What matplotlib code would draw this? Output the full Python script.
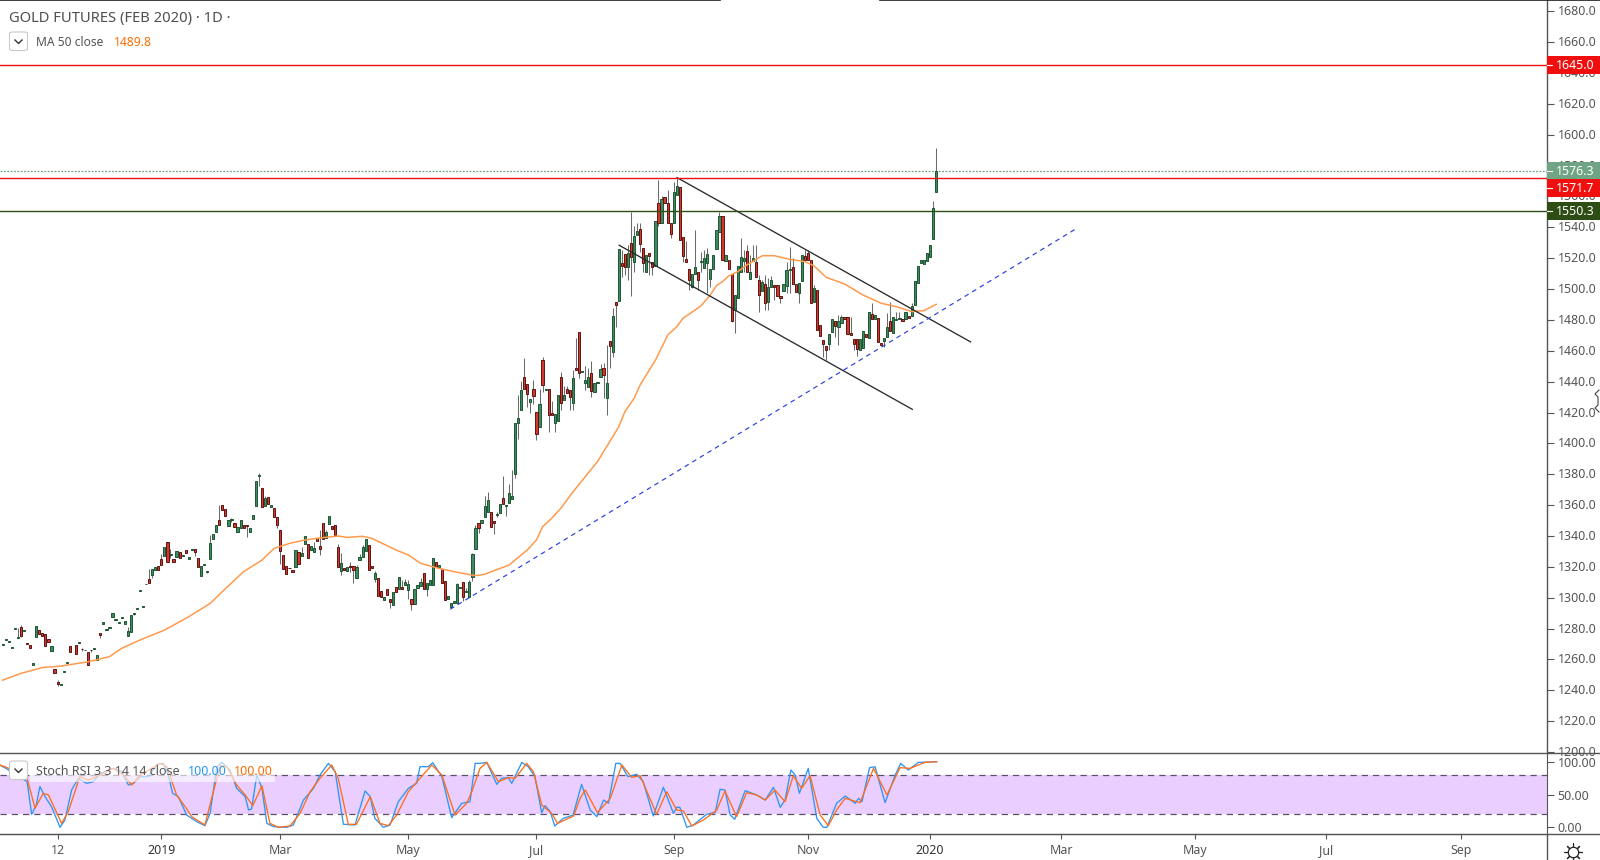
import numpy as np
import matplotlib
matplotlib.use("Agg")
import matplotlib.pyplot as plt
from matplotlib.patches import Rectangle, FancyBboxPatch
from matplotlib.lines import Line2D
from matplotlib.transforms import ScaledTranslation

plt.rcParams['font.family'] = ['Noto Sans', 'DejaVu Sans']

nan = float('nan')

# daily candles (bar 0 = left edge)
opens = [1269.6,1272.8,1271.5,1267.6,1279.9,1274.1,1280.8,1278.6,1270.6,1269.3,
1256.6,1274.7,1278.8,1277.3,1276.2,1273.2,1265.6,1253.8,1245.6,1243.4,
1252.1,1257.9,1268.5,nan,1269.1,1270.8,1266.9,1265.9,1264.6,1266.3,
1267.0,1259.8,1276.9,1283.1,1279.3,1280.6,1287.5,1285.8,1283.8,1287.0,
1283.1,1275.4,1277.9,1289.6,1292.9,1304.5,1294.2,1308.6,1312.1,1314.7,
1317.9,1320.7,1324.9,1327.2,1335.9,1327.7,1324.9,1326.1,1329.4,1327.2,
1330.7,1325.3,1331.1,1331.3,1325.5,1314.3,1321.4,1316.9,1324.9,1337.8,
1342.3,1350.1,1360.3,1357.7,1346.2,1350.6,1348.6,1342.3,1344.9,1346.9,
1347.1,1342.8,1350.8,1359.2,1378.9,1370.9,1359.4,1365.5,1359.0,1357.9,
1352.1,1343.6,1327.4,1320.3,1319.4,1317.9,1319.7,1329.4,1327.2,1335.0,
1334.6,1331.1,1329.4,1338.5,1333.5,1348.2,1338.9,1347.5,1346.5,1346.9,
1332.6,1317.5,1319.0,1317.5,1320.3,1320.3,1312.5,1324.6,1326.1,1330.0,
1334.4,1320.3,1312.3,1312.5,1304.1,1298.5,1305.4,1298.9,1295.0,1306.7,
1305.4,1306.7,1308.2,1305.0,1298.9,1296.1,1306.5,1307.6,1315.8,1305.4,
1308.4,1308.0,1322.9,1319.9,1318.4,1310.6,1299.1,1293.9,1296.5,1296.8,
1306.3,1309.9,1303.9,1300.6,1313.7,1331.4,1348.2,1348.2,1352.1,1355.3,
1355.3,1349.7,1353.6,1355.1,1364.4,1359.5,1361.2,1364.2,1380.0,1413.0,
1421.4,1442.8,1438.7,1427.1,1435.0,1420.1,1410.4,1453.8,1434.8,1435.0,
1419.5,1413.0,1414.3,1442.8,1427.9,1435.0,1434.4,1426.0,1448.7,1472.0,
1446.3,1438.9,1436.3,1445.4,1433.1,1439.2,1443.3,1448.7,1429.2,1466.2,
1459.0,1491.4,1492.1,1516.7,1522.5,1514.5,1529.6,1517.8,1535.3,1538.7,
1526.4,1511.3,1523.2,1517.3,1515.0,1555.6,1542.6,1559.4,1555.6,1543.0,
1542.6,1561.2,1565.9,1533.5,1519.3,1512.8,1501.1,1510.0,1510.8,1517.8,
1513.4,1516.7,1506.7,1512.8,1526.2,1536.8,1547.1,1518.0,1518.6,1509.6,
1486.4,1494.0,1511.3,1518.2,1524.5,1506.3,1518.0,1517.3,1505.7,1499.0,
1503.1,1491.4,1501.1,1502.4,1502.4,1495.3,1498.5,1501.8,1512.6,1514.1,
1503.1,1497.2,1505.0,1521.6,1523.2,1518.6,1491.4,1499.2,1476.5,1466.8,
1462.9,1464.2,1472.0,1479.1,1475.2,1477.8,1481.7,1481.7,1471.3,1467.4,
1467.4,1460.7,1461.6,1470.7,1468.1,1483.6,1480.4,1481.0,1464.8,1466.6,
1468.7,1479.1,1471.3,1480.2,1480.8,1480.4,1480.4,1482.8,1482.3,1489.9,
1504.2,1516.7,1516.0,1518.0,1521.0,1532.2,1562.7]

closes = [1270.0,1273.2,1271.9,1268.0,1280.3,1274.5,1275.4,1279.0,1270.2,1267.6,
1257.6,1281.6,1276.2,1275.4,1268.9,1271.5,1268.5,1251.4,1244.0,1243.8,
1252.5,1258.3,1265.0,nan,1263.7,1271.2,1266.5,1266.3,1256.6,1265.9,
1267.4,1262.6,1275.8,1284.2,1279.7,1281.0,1289.8,1286.2,1284.2,1287.4,
1284.9,1278.2,1288.5,1290.0,1293.3,1304.9,1294.6,1309.0,1309.5,1318.4,
1319.9,1318.1,1321.4,1332.6,1323.3,1328.1,1323.3,1330.0,1325.5,1327.6,
1329.2,1326.4,1331.5,1329.8,1320.1,1320.3,1321.8,1317.3,1335.2,1341.0,
1346.9,1346.9,1356.6,1353.2,1350.6,1351.0,1346.0,1346.0,1350.1,1345.4,
1346.7,1344.9,1353.4,1375.8,1379.3,1358.5,1364.4,1360.5,1360.1,1352.1,
1346.9,1330.0,1318.4,1315.1,1319.0,1316.9,1330.7,1321.6,1329.0,1339.8,
1325.5,1333.5,1332.0,1337.0,1331.8,1337.8,1342.3,1352.7,1344.7,1340.4,
1319.7,1322.3,1317.9,1319.7,1319.9,1318.2,1319.7,1326.4,1332.6,1337.8,
1317.7,1319.4,1315.8,1301.3,1300.7,1300.4,1301.7,1297.4,1303.7,1303.7,
1313.2,1305.4,1309.9,1308.8,1296.1,1305.4,1308.2,1309.9,1305.6,1309.3,
1311.4,1325.5,1319.6,1321.2,1309.3,1298.5,1301.1,1296.8,1297.6,1308.8,
1306.7,1300.2,1304.3,1309.9,1328.3,1345.0,1345.4,1350.2,1359.2,1363.1,
1346.1,1348.6,1354.0,1360.5,1360.7,1359.9,1367.7,1365.9,1413.0,1416.3,
1434.4,1435.0,1431.8,1428.8,1430.5,1405.9,1425.3,1438.1,1435.2,1418.2,
1418.2,1418.8,1431.2,1426.0,1431.2,1432.5,1429.9,1442.2,1447.4,1445.4,
1446.7,1440.9,1442.8,1433.8,1438.9,1439.6,1448.0,1444.1,1438.9,1463.3,
1482.4,1489.9,1525.8,1515.2,1514.5,1523.2,1520.6,1534.2,1537.4,1529.4,
1517.1,1521.9,1521.6,1514.5,1543.9,1543.0,1558.2,1555.6,1543.0,1535.7,
1562.7,1566.6,1531.6,1521.4,1517.3,1505.7,1509.6,1514.1,1505.9,1518.2,
1520.1,1522.5,1512.8,1521.9,1538.1,1547.1,1518.6,1521.9,1513.2,1479.5,
1495.9,1514.7,1520.6,1519.9,1511.3,1510.8,1519.9,1507.6,1495.9,1504.4,
1490.8,1501.1,1505.7,1501.1,1495.3,1494.4,1503.1,1512.1,1513.0,1503.1,
1497.9,1503.7,1521.9,1518.8,1518.8,1490.8,1500.5,1473.3,1469.8,1464.2,
1460.7,1470.7,1480.4,1475.9,1479.1,1481.7,1480.8,1470.7,1470.5,1464.2,
1461.0,1467.4,1472.6,1469.2,1484.9,1480.4,1483.0,1465.5,1464.0,1468.1,
1475.2,1472.6,1481.7,1480.6,1481.2,1479.1,1484.9,1481.0,1488.8,1505.0,
1514.7,1518.6,1518.6,1523.2,1528.3,1552.3,1576.3]

highs = [1270.0,1273.2,1271.9,1268.0,1280.3,1280.1,1282.3,1279.0,1270.6,1269.3,
1257.6,1281.6,1278.8,1277.3,1276.2,1273.2,1268.5,1253.8,1246.6,1243.8,
1252.5,1258.3,1268.5,nan,1269.1,1271.2,1267.5,1266.3,1264.6,1266.3,
1267.4,1262.6,1276.9,1284.2,1279.7,1281.0,1289.8,1286.2,1284.2,1287.4,
1284.9,1280.8,1288.5,1290.0,1293.3,1304.9,1294.6,1309.0,1318.6,1318.4,
1319.9,1320.7,1328.3,1332.6,1335.9,1331.8,1324.9,1330.0,1329.4,1327.6,
1330.7,1326.4,1331.5,1331.3,1325.5,1320.3,1321.8,1317.3,1340.6,1341.0,
1346.9,1360.1,1360.3,1357.7,1350.6,1351.4,1348.6,1346.0,1350.1,1346.9,
1347.1,1344.9,1353.4,1375.8,1380.6,1370.9,1366.1,1365.5,1360.1,1357.9,
1352.1,1343.6,1327.4,1320.3,1319.4,1317.9,1330.7,1329.4,1333.1,1339.8,
1334.6,1333.5,1335.9,1338.5,1343.9,1348.2,1343.9,1352.7,1346.5,1346.9,
1334.8,1328.7,1319.0,1319.7,1323.3,1320.3,1321.2,1328.5,1334.1,1337.8,
1334.4,1320.3,1317.5,1312.5,1304.1,1300.4,1305.4,1298.9,1303.7,1306.7,
1313.2,1311.4,1312.1,1311.4,1298.9,1305.4,1308.2,1313.0,1315.8,1309.3,
1311.4,1325.5,1322.9,1321.2,1318.4,1310.6,1301.1,1296.8,1297.6,1309.7,
1306.7,1309.9,1306.0,1311.4,1328.8,1347.1,1348.2,1350.2,1365.9,1368.3,
1355.3,1349.7,1355.5,1360.5,1378.9,1359.9,1373.7,1382.8,1413.0,1431.4,
1440.5,1455.4,1438.7,1428.8,1441.1,1420.1,1435.0,1456.2,1435.2,1435.0,
1427.7,1418.8,1431.2,1446.3,1437.4,1437.2,1434.4,1447.6,1468.1,1472.0,
1446.7,1450.2,1449.0,1453.4,1438.9,1439.6,1451.3,1451.9,1463.8,1466.2,
1487.5,1491.4,1525.8,1525.0,1522.5,1528.6,1550.2,1540.9,1543.0,1543.0,
1526.4,1521.9,1523.2,1517.3,1543.9,1570.7,1560.0,1559.4,1564.0,1543.0,
1569.6,1571.8,1565.9,1533.5,1531.0,1512.8,1509.6,1538.3,1510.8,1524.2,
1525.4,1526.4,1512.8,1521.9,1538.1,1550.2,1547.1,1521.9,1518.6,1509.6,
1495.9,1514.7,1532.9,1525.4,1528.6,1522.0,1528.6,1528.6,1509.1,1506.0,
1509.1,1507.0,1508.5,1502.4,1502.4,1495.3,1503.1,1517.8,1527.5,1519.9,
1503.1,1503.7,1521.9,1525.0,1525.3,1518.6,1502.6,1499.2,1476.5,1466.8,
1462.9,1470.7,1480.4,1479.1,1483.2,1483.2,1481.7,1481.7,1482.0,1467.4,
1467.4,1467.4,1472.6,1470.7,1484.9,1490.8,1483.0,1481.0,1464.8,1468.1,
1484.3,1491.8,1481.7,1485.4,1485.4,1480.4,1484.9,1482.8,1490.8,1505.0,
1514.7,1518.6,1518.6,1523.2,1528.3,1557.0,1591.2]

lows = [1269.6,1272.8,1271.5,1267.6,1279.9,1274.1,1274.3,1278.6,1270.2,1267.6,
1256.6,1274.7,1276.2,1275.4,1268.9,1271.5,1265.6,1251.4,1243.0,1243.4,
1252.1,1257.9,1265.0,nan,1263.7,1270.8,1265.5,1265.9,1256.6,1265.0,
1267.0,1259.8,1274.1,1283.1,1279.3,1280.6,1287.5,1285.8,1283.8,1287.0,
1283.1,1275.4,1277.9,1288.8,1292.9,1304.5,1294.2,1308.6,1309.5,1312.5,
1317.9,1318.1,1321.4,1327.2,1323.3,1325.5,1323.3,1326.1,1325.5,1327.2,
1329.2,1325.3,1331.1,1327.0,1320.1,1314.3,1321.4,1316.2,1324.9,1337.8,
1342.3,1346.9,1356.6,1353.2,1346.2,1349.3,1346.0,1342.3,1344.9,1345.4,
1339.3,1342.8,1350.8,1359.2,1372.4,1358.5,1359.4,1360.5,1359.0,1352.1,
1345.4,1322.0,1318.4,1315.1,1319.0,1316.9,1319.7,1321.6,1327.2,1335.0,
1325.5,1331.1,1329.4,1337.0,1327.7,1337.8,1338.9,1347.5,1344.7,1340.4,
1319.7,1314.7,1317.9,1317.5,1316.9,1309.7,1312.5,1324.6,1326.1,1330.0,
1317.7,1319.4,1310.4,1301.3,1300.7,1298.5,1301.7,1293.5,1295.0,1303.7,
1305.4,1305.4,1308.2,1298.9,1292.0,1296.1,1306.5,1307.6,1305.6,1301.0,
1308.4,1308.0,1319.6,1319.9,1309.3,1298.5,1299.1,1293.9,1296.5,1296.8,
1306.3,1298.0,1303.9,1300.6,1311.0,1331.4,1342.2,1348.2,1352.1,1355.3,
1346.1,1341.1,1352.5,1355.1,1360.7,1353.2,1361.2,1364.2,1377.8,1402.9,
1421.4,1435.0,1423.8,1419.5,1425.3,1402.2,1410.4,1433.1,1434.8,1407.6,
1418.2,1407.6,1414.3,1421.7,1427.9,1432.5,1421.7,1421.7,1447.4,1442.6,
1446.3,1434.6,1436.3,1430.3,1433.1,1439.2,1443.3,1429.6,1418.4,1449.1,
1456.2,1475.7,1492.1,1508.0,1509.0,1505.9,1495.7,1511.3,1535.3,1524.2,
1511.3,1511.3,1509.0,1509.1,1515.0,1540.9,1542.6,1555.6,1543.0,1532.9,
1542.6,1561.2,1531.6,1517.8,1517.3,1499.4,1500.5,1510.0,1499.4,1511.3,
1513.4,1497.2,1501.6,1512.8,1526.2,1536.8,1518.6,1518.0,1513.2,1478.9,
1471.8,1494.0,1511.3,1511.3,1511.3,1506.3,1518.0,1507.6,1484.9,1499.0,
1486.4,1486.4,1501.1,1492.9,1495.3,1490.7,1498.5,1497.2,1497.2,1503.1,
1497.9,1490.8,1505.0,1518.8,1518.8,1490.8,1491.4,1473.3,1469.8,1456.2,
1454.0,1460.5,1472.0,1469.2,1463.8,1477.8,1480.8,1470.7,1470.5,1460.5,
1456.6,1460.7,1461.6,1469.2,1468.1,1480.4,1480.4,1465.5,1464.0,1462.7,
1468.7,1472.6,1471.3,1480.2,1480.8,1479.1,1480.4,1481.0,1482.3,1489.9,
1504.2,1516.7,1516.0,1518.0,1521.0,1532.2,1562.7]

# MA 50, read at the bends of the line
ma_bar = [0,6,13,19,28,35,39,45,53,61,68,72,76,79,85,89,94,99,103,110,113,118,121,129,133,137,
          143,149,155,158,166,172,175,177,180,183,187,191,195,199,202,204,207,209,214,217,218,221,
          223,227,229,232,234,236,238,241,244,249,253,258,263,266,270,276,282,288,293,298,302,306]
ma_val = [1246.6,1251,1254.8,1255.7,1258.5,1261.8,1267.2,1272.6,1279,1287.7,1296.3,1303.9,1311.4,
          1316.9,1324.4,1332,1335.2,1337.4,1338.5,1340,1339.1,1339.8,1338.5,1330.9,1327.7,1322.3,
          1319,1316.5,1314.3,1315.2,1321.2,1331,1337.4,1346,1351.5,1358,1368.7,1378.5,1388.2,1401.1,
          1410.9,1420.6,1429.2,1437.9,1454,1465.9,1470.2,1475.6,1481,1486.4,1489.3,1496.2,1502.2,
          1504.8,1508.5,1511.3,1515.6,1521.6,1521.6,1519.3,1517.8,1515,1507.6,1503.3,1496.2,1490.8,
          1488.6,1485.4,1486,1490.1]

# stoch rsi
k_bar = [-1,1,8,9.5,11,12.2,13.9,16,18.8,20.4,22.6,24.8,27.5,29.7,32,36.3,39,41.2,42.9,45,47.8,50.5,52.7,54.3,
55.7,57.6,60.3,63.6,66.3,68,70.2,71.8,74.5,76.7,79.5,80.6,81.6,83.3,85,86.6,88.8,93.1,95.3,98.6,101.9,104,106.8,
109,111.7,115.5,118.8,120.5,122,124.8,127,129.7,133,135.7,136.8,139.5,141,144,147.2,150.5,153.2,154.9,156.5,158.7,
162,163.6,165.8,166.9,170.2,172.3,174.5,176.7,177.8,179.5,181,183.8,187,189.8,192.6,194.8,197,198.6,201,202.4,
205,207.9,210,213.3,216.6,219.9,221,222,224.3,226.4,230.8,233.6,235.2,236.8,238.5,240,243.4,247.2,250,252.7,254.9,
256.5,258.4,259.8,261.2,264.1,266.9,269,270.2,273.4,276.2,279.5,280.6,281.7,284.2,286,289.3,292.6,294.4,296.9,300.2,306.2]
k_val = [95,90,69.6,19.8,34,62,46.7,31.5,0,11,57,74.7,67,69.6,82.3,90,84.8,64.5,67,77.2,77.2,96,97.5,79.7,
51.8,46.7,18.8,8.6,2.5,21.3,92.4,99,87.4,59.4,46.7,26.4,27.9,79.7,59.4,6,1,0,3.5,41.6,59.4,79.7,97.5,
84.8,4.6,3.5,55.4,46.7,13.7,0,3.5,39,59.4,67,92.4,92.4,98.5,77.2,14.7,36.6,39,97.5,97.5,99,
65.5,74.7,75.7,67,99,92.4,77.2,22.3,33,23.9,2,13.7,18.8,65.5,26.4,16.2,41.6,36.6,97.5,97.5,
77.2,80.8,69.6,17.3,61,21.3,30.5,30.5,0,3.5,19.8,22.8,57.9,56.9,18.8,12.2,55.9,49.3,41.6,61,30.5,
41.6,87.4,79.7,51.8,89.9,13.7,0,0,36.6,47.7,36.6,44.2,39,90.9,92.4,37.6,79.7,97.5,87.4,99,100]
d_bar = [-1,1,8,10.6,13.3,15,19.3,21.5,25.3,28.1,32,36.3,39.6,42.3,45,48.9,51.6,53.8,57,59.8,62,66.3,68.5,71.3,
73.5,76.7,79.5,82,85,87.6,90.4,94.2,97.5,100.8,104,107.9,110,113.3,116,120.5,123.7,126.4,129.2,133,136.8,140.7,
144,148.3,152.1,153.8,156.5,158.7,162.5,165.8,168,171.8,174,176.7,180,181.9,187.2,189.3,191,195,199.2,203,206.2,
209,214.4,217.7,221,223.2,225.9,229.7,234.1,236.8,240.6,243.9,247.2,250,253.2,256.5,259.2,261.9,264.7,268,270.7,
273.4,276.2,281.1,285.5,289.9,294.2,297.5,302.4,306.2]
d_val = [95,92,74.7,29,51.8,49.3,6,24,77.2,72,79.7,90,79.7,64.5,79.7,89.9,97.5,92.4,49.3,31.5,16.2,3.5,44.2,94,
92.4,64.5,49.3,33,63.5,6,0,2,21.3,54.3,74.7,95,74.7,4.6,4.6,46.7,6,2.5,18.8,54.3,74.7,95,
79.7,18.8,36.6,54.3,89.9,99,69.6,75.7,74.7,97.5,84.8,34,21.3,6,17.3,44.2,57,22.3,44.2,95,76.2,
78.7,19.8,54.3,26.4,24.9,2,11,26.4,55.4,16.2,52.8,49.3,41.6,56.9,39,78.7,59.4,78.7,18.8,2.5,
26.4,44.2,37.6,89.9,49.3,90.9,89.9,99,100]

# drawn lines: (bar, price) of both ends
channel_top = ([221.1, 317.3], [1572.2, 1465.8])
channel_bottom = ([202.1, 298.2], [1528.4, 1422.1])
trend_line = ([146.7, 352.0], [1292.5, 1539.2])
level_red = [1645.0, 1571.7]
level_green = 1550.3
last_price = 1576.3

price_ticks = np.arange(1200, 1700, 20)
stoch_ticks = [0, 50, 100]
time_ticks = [18, 52, 91, 133, 175, 220, 264, 304, 347, 391, 434, 478]
time_labels = ['12', '2019', 'Mar', 'May', 'Jul', 'Sep', 'Nov', '2020', 'Mar', 'May', 'Jul', 'Sep']

W, H = 1600, 860
AXIS_X, SPLIT_Y, BOTTOM_Y = 1547, 753, 834
GREY = '#555555'
LINE = '#555555'


def fx(x):
    return x / W


def fy(y):
    return 1 - y / H


fig = plt.figure(figsize=(W / 100, H / 100), dpi=100, facecolor='white')
ax = fig.add_axes([0, fy(SPLIT_Y), AXIS_X / W, SPLIT_Y / H])
ax2 = fig.add_axes([0, fy(BOTTOM_Y), AXIS_X / W, (BOTTOM_Y - SPLIT_Y) / H])

# candles
o = np.array(opens)
c = np.array(closes)
hi = np.array(highs)
lo = np.array(lows)
bars = np.arange(len(o))
ok = ~np.isnan(o)
up = ok & (c >= o)
dn = ok & (c < o)

ax.vlines(bars[ok], lo[ok], hi[ok], color='#6b6b6b', lw=0.75, zorder=2)
ax.bar(bars[up], (c - o)[up], bottom=o[up], width=0.72, color='#3f8a63', edgecolor='#1e5631', lw=0.7, zorder=3)
ax.bar(bars[dn], (o - c)[dn], bottom=c[dn], width=0.72, color='#d3392b', edgecolor='#5c1512', lw=0.7, zorder=3)

ax.plot(ma_bar, ma_val, color='#ff9a4d', lw=1.1, zorder=4)
ax.plot(*channel_top, color='#2a2a2e', lw=0.95, zorder=5)
ax.plot(*channel_bottom, color='#2a2a2e', lw=0.95, zorder=5)
ax.plot(*trend_line, color='#2a3fe0', lw=0.85, ls=(0, (4, 3.5)), zorder=5)

ax.axhline(level_red[0], color='#f01010', lw=1.0, zorder=6)
ax.axhline(level_red[1], color='#f01010', lw=1.0, zorder=6)
ax.axhline(level_green, color='#2d4d14', lw=1.0, zorder=6)
ax.axhline(last_price, color='#6fa585', lw=0.9, ls=(0, (1.5, 1.2)), zorder=1)

xlim = (-0.885, 506.3)
ax.set_xlim(*xlim)
ax.set_ylim(1199.4, 1687.3)
ax.yaxis.tick_right()
ax.set_yticks(price_ticks)
ax.set_yticklabels(['%.1f' % t for t in price_ticks])
ax.tick_params(axis='y', length=5, width=0.8, color=LINE, labelcolor=GREY, labelsize=8.9, pad=2.5)
ax.set_xticks([])
for s in ['top', 'left', 'bottom']:
    ax.spines[s].set_visible(False)
ax.spines['right'].set_color(LINE)
ax.spines['right'].set_linewidth(1.0)

# stoch panel
ax2.axhspan(20, 80, color='#e9ceff', lw=0, zorder=1)
ax2.axhline(80, color='#5b5068', lw=0.9, ls=(0, (5, 4)), zorder=2)
ax2.axhline(20, color='#5b5068', lw=0.9, ls=(0, (5, 4)), zorder=2)
ax2.plot(k_bar, k_val, color='#2f96f3', lw=0.95, zorder=3)
ax2.plot(d_bar, d_val, color='#ff6d1a', lw=0.95, zorder=4)
ax2.set_xlim(*xlim)
ax2.set_ylim(-10.2, 113.3)
ax2.yaxis.tick_right()
ax2.set_yticks(stoch_ticks)
ax2.set_yticklabels(['%.2f' % t for t in stoch_ticks])
ax2.tick_params(axis='y', length=5, width=0.8, color=LINE, labelcolor=GREY, labelsize=8.9, pad=2.5)
ax2.set_xticks(time_ticks)
ax2.set_xticklabels(time_labels)
ax2.tick_params(axis='x', length=3.5, width=0.8, color=LINE, labelcolor=GREY, labelsize=8.9, pad=4)
for tick, lab in zip(ax2.get_xticklabels(), time_labels):
    if lab in ('2019', '2020'):
        tick.set_fontweight('bold')
        tick.set_color('#333333')
ax2.spines['left'].set_visible(False)
ax2.spines['top'].set_visible(False)
ax2.spines['bottom'].set_color(LINE)
ax2.spines['right'].set_color(LINE)

# price labels sit a pixel higher than matplotlib centres them
up_1px = ScaledTranslation(0, 1 / 100, fig.dpi_scale_trans)
for lab in ax.get_yticklabels():
    lab.set_transform(lab.get_transform() + up_1px)

# frame lines that run to the picture edge
frame = [([0, W], [SPLIT_Y, SPLIT_Y]), ([0, W], [BOTTOM_Y, BOTTOM_Y]), ([AXIS_X, AXIS_X], [BOTTOM_Y, H])]
for xs, ys in frame:
    fig.add_artist(Line2D([fx(v) for v in xs], [fy(v) for v in ys], color=LINE, lw=1.0, zorder=7))
for xs in ([0, 720], [880, W]):
    fig.add_artist(Line2D([fx(v) for v in xs], [fy(0.4), fy(0.4)], color='#1a1a1a', lw=1.2, zorder=7))


def py(p):
    return (1687.3 - p) * SPLIT_Y / (1687.3 - 1199.4)


# price tags on the axis
tags = [(level_red[0], 0, '#f00f0f'), (last_price, 0, '#6fa585'), (level_red[1], 10, '#f00f0f'), (level_green, 0, '#2d4d14')]
for val, shift, col in tags:
    yc = py(val) + shift
    fig.add_artist(Rectangle((fx(AXIS_X), fy(yc + 9)), (W - AXIS_X) / W, 18 / H, transform=fig.transFigure,
                             facecolor=col, edgecolor='none', zorder=8))
    fig.add_artist(Line2D([fx(AXIS_X), fx(AXIS_X + 5)], [fy(yc), fy(yc)], color='white', lw=0.8, zorder=9))
    fig.text(fx(AXIS_X + 9), fy(yc), '%.1f' % val, color='white', fontsize=8.9, fontweight='bold',
             va='center', ha='left', zorder=9)

# legend
fig.text(fx(9), fy(18.5), 'GOLD FUTURES (FEB 2020) · 1D ·', color='#4f4f4f', fontsize=10.6, va='center', ha='left', zorder=9)
fig.text(fx(36), fy(42.5), 'MA 50 close', color='#555555', fontsize=8.7, va='center', ha='left', zorder=9)
fig.text(fx(114), fy(42.5), '1489.8', color='#ff6d00', fontsize=8.7, fontweight='bold', va='center', ha='left', zorder=9)

# white wash behind the stoch legend
fig.add_artist(Rectangle((fx(30), fy(782)), 245 / W, 20 / H, transform=fig.transFigure, facecolor='white',
                         edgecolor='none', alpha=0.62, zorder=8))
fig.text(fx(36), fy(771.5), 'Stoch RSI 3 3 14 14 close', color='#555555', fontsize=9.0, va='center', ha='left', zorder=9)
fig.text(fx(188), fy(771.5), '100.00', color='#2196f3', fontsize=9.0, va='center', ha='left', zorder=9)
fig.text(fx(233.5), fy(771.5), '100.00', color='#ff6d00', fontsize=9.0, va='center', ha='left', zorder=9)

for y0 in (32, 761):
    fig.add_artist(FancyBboxPatch((fx(9.5), fy(y0 + 18.5)), 18 / W, 18.5 / H, transform=fig.transFigure,
                                  boxstyle='round,pad=0,rounding_size=0.002', facecolor='white',
                                  edgecolor='#c9c9c9', lw=0.8, zorder=9))
    fig.add_artist(Line2D([fx(15), fx(18.5), fx(22)], [fy(y0 + 8), fy(y0 + 11.5), fy(y0 + 8)],
                          color='#333333', lw=1.0, zorder=10))

# settings gear and the mouse pointer caught at the edge
fig.add_artist(Line2D([fx(1573)], [fy(852)], marker=(8, 2, 0), ms=13, mew=0.8, color='#222222', zorder=9))
fig.add_artist(Line2D([fx(1573)], [fy(852)], marker='o', ms=7.5, mfc='white', mec='#222222', mew=0.9, zorder=10))
cx = [1599, 1595, 1598, 1598, 1595, 1599]
cy = [390, 394, 397, 405, 408, 412]
fig.add_artist(Line2D([fx(v) for v in cx], [fy(v) for v in cy], color='#444444', lw=0.8, zorder=9))

fig.savefig('out.png', dpi=100, facecolor='white')
